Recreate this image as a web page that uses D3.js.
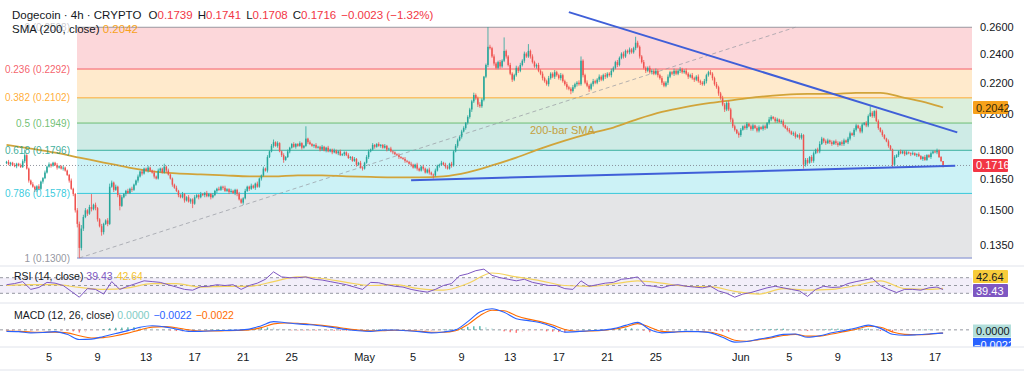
<!DOCTYPE html>
<html><head><meta charset="utf-8">
<script src="https://cdn.jsdelivr.net/npm/d3@7"></script>
<style>
body{margin:0;background:#fff}
svg{display:block;font-family:"Liberation Sans",Arial,sans-serif}
</style>
</head><body>
<svg id="c" width="1024" height="375"></svg>
<script>
// ---------- DATA (price in units of 0.0001) ----------
const startTime = "2025-04-01T12:00:00Z"; // first 4h candle
const firstOpen = 1728;
const closes = [
1735,1722,1730,1718,1712,1725,1716,1708,1738,1770,1700,1640,1622,1610,1595,1612,1600,1635,1652,1680,1710,1722,1715,1730,
1718,1705,1712,1700,1705,1690,1668,1640,1600,1575,1500,1440,1340,1420,1470,1500,1485,1515,1505,1525,1510,1460,1430,1405,
1440,1455,1440,1610,1630,1595,1610,1570,1520,1560,1575,1590,1580,1600,1595,1620,1640,1660,1685,1675,1700,1690,1705,1690,
1680,1660,1650,1690,1700,1680,1710,1690,1670,1650,1620,1605,1590,1570,1560,1575,1545,1560,1540,1550,1530,1560,1570,1560,
1575,1570,1580,1565,1575,1560,1570,1590,1600,1595,1610,1605,1590,1598,1585,1590,1580,1595,1575,1550,1535,1555,1590,1610,
1600,1615,1605,1625,1610,1650,1665,1700,1690,1760,1790,1820,1840,1820,1835,1790,1770,1745,1760,1790,1810,1830,1815,1830,
1820,1835,1810,1820,1860,1840,1830,1820,1825,1810,1815,1800,1815,1795,1810,1790,1800,1785,1795,1780,1790,1770,1775,1785,
1770,1755,1760,1740,1750,1720,1730,1705,1700,1730,1760,1790,1800,1825,1815,1830,1820,1825,1810,1820,1800,1805,1790,1785,
1775,1770,1760,1755,1750,1740,1735,1725,1720,1705,1720,1700,1690,1710,1700,1680,1695,1680,1670,1665,1690,1715,1720,1730,
1720,1710,1700,1725,1715,1790,1820,1850,1870,1900,1920,1950,1985,2030,2080,2120,2100,2060,2050,2090,2240,2320,2450,2440,
2380,2330,2300,2340,2310,2350,2420,2380,2320,2260,2220,2250,2300,2280,2320,2350,2400,2380,2420,2380,2340,2310,2320,2280,
2260,2230,2210,2190,2230,2260,2240,2270,2250,2230,2250,2210,2190,2170,2160,2145,2170,2190,2200,2190,2350,2250,2200,2180,
2160,2190,2210,2200,2220,2240,2220,2250,2240,2260,2250,2280,2300,2340,2320,2370,2400,2380,2420,2410,2430,2410,2440,2480,
2450,2380,2340,2300,2280,2300,2270,2280,2260,2280,2250,2230,2200,2180,2200,2240,2270,2260,2280,2260,2280,2290,2270,2280,
2260,2240,2250,2230,2220,2240,2210,2200,2190,2210,2250,2270,2260,2230,2190,2170,2130,2100,2060,2030,2070,2030,1970,1930,
1910,1890,1880,1910,1930,1920,1945,1930,1915,1935,1920,1905,1925,1915,1930,1920,1950,1970,1985,1975,1960,1970,1955,1960,
1935,1920,1910,1900,1885,1890,1870,1880,1865,1880,1720,1745,1730,1760,1740,1780,1800,1790,1830,1860,1845,1835,1850,1840,
1830,1845,1835,1825,1840,1830,1850,1840,1860,1890,1880,1910,1935,1920,1900,1940,1950,1935,1990,2010,1990,2020,1960,1920,
1900,1880,1860,1845,1820,1800,1720,1760,1770,1790,1780,1790,1775,1785,1780,1775,1780,1770,1775,1765,1750,1760,1745,1770,
1760,1780,1790,1785,1795,1760,1739,1716];
// wick lengths in units of 0.0005
const wickUp = [
1,2,1,1,2,1,1,2,2,6,1,1,1,2,1,1,2,1,1,2,1,2,1,1,
1,2,1,1,2,1,1,1,2,1,1,2,2,3,2,2,1,2,12,1,2,1,1,2,
1,1,2,3,2,1,2,1,1,2,1,1,2,1,2,1,1,2,1,2,1,1,2,1,
1,2,1,2,1,1,3,1,2,1,1,1,2,1,1,2,1,1,2,1,1,2,1,1,
2,1,1,2,1,1,2,1,1,2,1,1,2,1,1,2,1,1,1,2,1,1,2,1,
1,2,1,1,2,1,1,2,1,2,1,2,3,1,2,1,1,2,1,2,1,1,2,1,
1,2,1,1,14,1,2,1,1,2,1,1,2,1,1,2,1,1,2,1,1,2,1,1,
1,2,1,1,2,1,1,2,1,1,2,2,1,2,1,1,2,1,1,2,1,1,2,1,
1,1,2,1,1,2,1,1,2,1,1,2,1,1,2,1,1,2,1,1,2,1,1,2,
1,2,1,1,2,1,2,2,1,2,2,1,2,2,2,3,2,2,3,2,1,2,30,3,
2,3,2,2,3,2,20,2,2,3,2,2,3,2,3,2,3,2,10,2,3,2,2,3,
2,3,2,2,3,2,2,3,2,2,3,2,2,3,2,2,3,2,2,3,6,2,2,3,
2,2,3,2,2,3,2,2,3,2,2,3,2,2,3,2,2,3,2,2,3,2,2,9,
3,2,2,3,2,2,3,2,2,3,2,2,3,2,2,3,2,2,3,2,2,3,2,2,
3,2,2,3,2,2,3,2,2,3,2,2,3,2,2,3,2,2,3,2,2,3,2,2,
2,1,2,2,1,2,2,1,2,2,1,2,2,1,2,2,1,3,2,1,2,2,1,2,
2,1,2,2,1,2,2,1,2,2,1,2,2,1,2,2,1,2,3,2,1,2,2,1,
2,1,2,2,1,2,2,1,2,2,1,2,2,1,2,2,1,2,2,8,2,1,2,2,
1,2,1,1,2,1,1,2,1,1,2,1,1,2,1,1,2,1,1,2,1,1,2,1,
1,2,1,1,2,1,1,0];
const wickDn = [
1,1,2,1,1,2,1,1,1,2,1,2,1,1,2,2,1,1,2,1,1,1,2,1,
1,2,1,1,2,1,1,2,1,2,2,3,8,2,2,1,2,1,2,1,2,2,1,3,
2,1,2,1,1,2,1,2,4,1,1,2,1,1,2,1,1,2,1,2,1,1,2,1,
1,2,1,1,2,1,1,2,1,1,2,1,1,2,1,1,2,1,1,2,4,1,1,2,
1,1,2,1,1,2,1,1,2,1,1,2,1,1,2,1,1,2,2,1,1,2,1,1,
2,1,1,2,1,1,2,1,1,2,1,1,2,1,2,1,2,3,1,1,2,1,1,2,
1,1,2,1,1,2,1,1,2,1,1,2,1,1,2,1,1,2,1,1,2,1,1,2,
1,1,2,1,1,2,1,1,2,1,1,2,1,1,2,1,1,2,1,1,2,1,1,2,
1,1,2,1,1,2,1,1,2,1,1,2,1,1,2,1,1,2,1,3,1,1,2,1,
1,2,1,1,2,1,1,2,1,2,1,2,2,2,3,2,2,3,2,2,2,2,3,2,
2,3,2,2,3,2,2,3,2,2,3,2,2,3,2,2,3,2,2,3,2,2,3,2,
2,3,2,2,3,2,2,3,2,2,3,2,2,3,2,4,2,2,3,2,2,3,2,2,
4,2,3,2,2,3,2,2,3,2,2,3,2,2,3,2,2,3,2,2,3,2,2,3,
2,3,2,2,3,2,2,3,2,2,3,2,3,2,2,3,2,2,3,2,2,3,2,2,
2,3,2,2,3,2,2,3,2,2,3,2,2,3,2,2,3,2,2,3,2,2,3,2,
2,1,3,2,1,2,2,1,2,2,1,2,2,1,2,2,1,2,2,1,2,2,1,2,
2,1,2,2,1,2,2,1,2,2,4,2,2,1,2,2,1,2,2,1,2,2,1,2,
2,1,2,2,1,2,2,1,2,2,1,2,2,1,2,2,1,2,2,1,2,2,1,2,
1,2,1,1,2,1,3,1,1,2,1,1,2,1,1,2,1,1,2,1,1,2,1,1,
1,2,1,1,2,1,1,2];
// SMA(200) sampled every 12 candles (last = final candle)
const sma200 = [0.1826,0.1805,0.1783,0.1757,0.1731,0.1706,0.1686,0.1676,0.1671,0.1666,0.1661,0.1661,0.1666,0.1666,0.1661,0.1658,0.1656,0.1656,0.1661,0.1681,0.1716,0.1757,0.1805,0.1849,0.1888,0.1923,0.1972,0.2015,0.2046,0.2070,0.2089,0.2108,0.2121,0.2127,0.2127,0.2134,0.2134,0.2102,0.2068,0.2042];
// RSI(14) sampled every 4 candles, RSI-MA every 12 candles
const rsi = [52,55,60,40,45,58,56,50,35,20,42,40,28,60,40,48,55,62,60,58,52,46,40,38,47,48,52,50,52,40,50,56,66,85,72,70,70,72,66,64,60,56,52,46,40,58,57,52,48,46,40,36,33,40,50,55,75,80,88,92,76,70,66,62,66,58,54,50,50,42,40,62,48,52,56,58,66,68,72,50,48,44,50,52,48,46,44,48,36,30,20,28,32,38,44,48,44,40,36,22,40,48,45,46,55,60,64,68,50,40,32,40,40,38,44,46,39.43];
const rsiMA = [50,52,52,45,40,44,55,55,46,48,48,60,72,68,58,50,52,42,38,55,82,72,62,50,48,54,62,56,48,47,35,28,42,38,40,50,62,42,40,42.64];
// MACD (units 0.0001) sampled every 6 candles; histogram every 3 candles
const macdLine = [-10,-12,-20,-18,-12,-30,-65,-62,-44,-25,-5,18,28,20,5,-10,-10,-6,-4,-2,5,28,55,48,40,34,26,14,2,-6,-10,-2,-1,-6,-12,-20,-14,0,55,120,142,118,75,62,48,20,-15,-12,-6,-2,8,30,50,2,-20,-15,-10,-12,-20,-50,-82,-78,-62,-48,-30,-28,-50,-40,-20,-5,12,32,10,-30,-36,-33,-28,-22,-22];
const signalLine = [-8,-10,-14,-16,-15,-20,-40,-55,-52,-40,-22,0,18,22,14,0,-8,-8,-6,-4,0,15,40,46,44,38,30,20,8,-2,-7,-6,-3,-4,-9,-16,-16,-6,35,95,132,128,95,72,55,32,2,-10,-8,-4,4,20,42,18,-10,-14,-12,-11,-16,-38,-70,-76,-66,-54,-38,-30,-42,-42,-28,-12,4,24,18,-14,-30,-33,-30,-22,-22];
const macdHist = [-1,-2,-1,1,-2,-3,-1,1,2,-1,-5,-10,-18,-16,-8,-2,5,10,14,15,17,18,17,14,10,5,0,-4,-8,-10,-9,-6,-2,1,2,2,1,2,1,2,5,9,13,16,15,8,2,-2,-4,-4,-4,-5,-4,-5,-6,-6,-6,-5,-4,-4,-3,2,4,3,2,0,-2,-3,-3,-4,-4,-1,2,4,6,12,20,24,25,18,10,0,-10,-16,-20,-14,-10,-8,-7,-10,-12,-15,-17,-10,-2,2,2,2,2,3,4,7,10,10,8,-5,-16,-14,-10,-5,-1,1,2,1,-1,-2,-4,-8,-12,-13,-12,-6,-2,2,4,5,6,7,8,5,2,-3,-8,-3,2,5,8,8,7,8,8,8,8,0,-8,-12,-16,-10,-6,-3,0,1,2,1,0];
// Fibonacci retracement
const fibLevels = [0, 0.236, 0.382, 0.5, 0.618, 0.786, 1];
const fibPrices = [0.2598, 0.2292, 0.2102, 0.1949, 0.1796, 0.1578, 0.1300];
const fibColors = ["#787b86","#f23645","#ff9800","#4caf50","#089981","#00bcd4","#787b86"];
const fibAnchors = [["2025-04-07T12:00:00Z",0.1300],["2025-06-05T12:00:00Z",0.2598]];
const supportLine = [["2025-05-04T20:00:00Z",0.1642],["2025-06-18T16:00:00Z",0.1714]];
const resistLine = [["2025-05-17T20:00:00Z",0.2719],["2025-06-18T20:00:00Z",0.1895]];
// axes
const priceTicks = [0.26,0.24,0.22,0.20,0.18,0.165,0.15,0.135];
const tickDates = ["2025-04-05","2025-04-09","2025-04-13","2025-04-17","2025-04-21","2025-04-25","2025-05-01","2025-05-05","2025-05-09","2025-05-13","2025-05-17","2025-05-21","2025-05-25","2025-06-01","2025-06-05","2025-06-09","2025-06-13","2025-06-17"];
const tickLabels = ["5","9","13","17","21","25","May","5","9","13","17","21","25","Jun","5","9","13","17"];
// header values
const headerOHLC = [0.1739, 0.1741, 0.1708, 0.1716];
const headerChange = [-0.0023, -1.32];
const lastSMA = 0.2042;
const lastRSI = [39.43, 42.64];
const lastMACD = [0.0000, -0.0022, -0.0022];

// ---------- LAYOUT ----------
const svg = d3.select("#c");
const W = 1024, PR = 972, FIBX = 77;
const P = {top:0, bot:266}, R = {top:266, bot:303}, M = {top:303, bot:347};
const x = d3.scaleUtc().domain([new Date("2025-04-05T00:00:00Z"), new Date("2025-06-17T00:00:00Z")]).range([49, 935]);
const y = d3.scaleLog().domain([0.13, 0.26]).range([258, 27]);
const yR = d3.scaleLinear().domain([30,70]).range([293.3, 277.7]);
const yM = d3.scaleLinear().domain([-0.0115, 0.0160]).range([347, 306]);
const t0 = Date.parse(startTime);
const tAt = i => new Date(t0 + i*4*3600e3);
const nBars = closes.length;
const upC = "#26a69a", dnC = "#ef5350";
const fmt4 = d3.format(".4f");
const minus = s => s.replace("-", "\u2212");

const defs = svg.append("defs");
defs.append("clipPath").attr("id","cp").append("rect").attr("x",0).attr("y",P.top).attr("width",PR).attr("height",P.bot-P.top);
defs.append("clipPath").attr("id","cr").append("rect").attr("x",0).attr("y",R.top).attr("width",PR).attr("height",R.bot-R.top);
defs.append("clipPath").attr("id","cm").append("rect").attr("x",0).attr("y",M.top).attr("width",W).attr("height",M.bot-M.top);

// ---------- PRICE PANE ----------
const gp = svg.append("g").attr("clip-path","url(#cp)");
for (let j=0;j<fibPrices.length-1;j++){
  gp.append("rect").attr("x",FIBX).attr("width",PR-FIBX)
    .attr("y",y(fibPrices[j])).attr("height",y(fibPrices[j+1])-y(fibPrices[j]))
    .attr("fill",fibColors[j+1]).attr("fill-opacity",0.2);
}
fibPrices.forEach((p,j)=>{
  gp.append("line").attr("x1",FIBX).attr("x2",PR).attr("y1",y(p)).attr("y2",y(p))
    .attr("stroke",j===6?"#9fa8da":fibColors[j]).attr("stroke-opacity",0.75).attr("stroke-width",j===6?2:1);
  svg.append("text").attr("x",70).attr("y",y(p)+3.5).attr("text-anchor","end")
    .attr("font-size",10).attr("fill",fibColors[j]).attr("fill-opacity",j===0?0.4:0.8)
    .text(`${fibLevels[j]} (${fmt4(p)})`);
});
// fib trend dashed
gp.append("line")
  .attr("x1",x(new Date(fibAnchors[0][0]))).attr("y1",y(fibAnchors[0][1]))
  .attr("x2",x(new Date(fibAnchors[1][0]))).attr("y2",y(fibAnchors[1][1]))
  .attr("stroke","#9598a1").attr("stroke-opacity",0.7).attr("stroke-dasharray","4,3");
// SMA 200
const smaPts = sma200.map((v,k)=>[x(tAt(Math.min(12*k,nBars-1))), y(v)]);
gp.append("path").attr("d",d3.line().curve(d3.curveMonotoneX)(smaPts))
  .attr("fill","none").attr("stroke","#d1a43a").attr("stroke-width",1.8);
gp.append("text").attr("x",530).attr("y",134).attr("font-size",11).attr("fill","#c4a040").text("200-bar SMA");
// current price dotted
gp.append("line").attr("x1",0).attr("x2",PR).attr("y1",y(headerOHLC[3])).attr("y2",y(headerOHLC[3]))
  .attr("stroke","#787b86").attr("stroke-dasharray","1,2").attr("stroke-width",0.8);
// candles
const candles = closes.map((c,i)=>{
  const o = i===0?firstOpen:closes[i-1];
  return {t:tAt(i), o:o/1e4, c:c/1e4, h:(Math.max(o,c)+wickUp[i]*5)/1e4, l:(Math.min(o,c)-wickDn[i]*5)/1e4};
});
const gc = gp.append("g");
candles.forEach(d=>{
  const cx = x(d.t), col = d.c>=d.o?upC:dnC;
  gc.append("line").attr("x1",cx).attr("x2",cx).attr("y1",y(d.h)).attr("y2",y(d.l)).attr("stroke",col).attr("stroke-width",0.8);
  const yt = y(Math.max(d.o,d.c)), yb = y(Math.min(d.o,d.c));
  gc.append("rect").attr("x",cx-0.75).attr("width",1.5).attr("y",yt).attr("height",Math.max(0.8,yb-yt)).attr("fill",col);
});
// trend lines
[supportLine,resistLine].forEach(L=>{
  gp.append("line").attr("x1",x(new Date(L[0][0]))).attr("y1",y(L[0][1]))
    .attr("x2",x(new Date(L[1][0]))).attr("y2",y(L[1][1]))
    .attr("stroke","#3f5fd8").attr("stroke-width",2);
});

// price axis
priceTicks.forEach(p=>{
  svg.append("text").attr("x",980).attr("y",y(p)+4).attr("font-size",11).attr("fill","#131722").text(fmt4(p));
});
function tag(yc, txt, bg, fg){
  svg.append("rect").attr("x",973).attr("y",yc-6.5).attr("width",35).attr("height",13).attr("fill",bg).attr("rx",1);
  svg.append("text").attr("x",976).attr("y",yc+4).attr("font-size",11).attr("fill",fg).text(txt);
}
tag(y(lastSMA), fmt4(lastSMA), "#f7a21b", "#3a2a05");
tag(y(headerOHLC[3]), fmt4(headerOHLC[3]), "#f23645", "#ffffff");

// header
const h1 = svg.append("text").attr("x",12).attr("y",19).attr("font-size",11.5).attr("fill","#131722");
h1.append("tspan").text("Dogecoin \u00b7 4h \u00b7 CRYPTO ");
["O","H","L","C"].forEach((k,j)=>{
  h1.append("tspan").attr("dx",j===0?4:5).text(k);
  h1.append("tspan").attr("fill","#f23645").text(fmt4(headerOHLC[j]));
});
h1.append("tspan").attr("dx",5).attr("fill","#f23645").text(minus(fmt4(headerChange[0]))+" ("+minus(d3.format(".2f")(headerChange[1]))+"%)");
const h2 = svg.append("text").attr("x",12).attr("y",33).attr("font-size",11.5).attr("fill","#131722");
h2.append("tspan").text("SMA (200, close) ");
h2.append("tspan").attr("fill","#f7a21b").text(fmt4(lastSMA));

// ---------- RSI PANE ----------
svg.append("line").attr("x1",0).attr("x2",W).attr("y1",R.top).attr("y2",R.top).attr("stroke","#e0e3eb");
const gr = svg.append("g").attr("clip-path","url(#cr)");
gr.append("rect").attr("x",0).attr("width",PR).attr("y",yR(70)).attr("height",yR(30)-yR(70)).attr("fill","#7e57c2").attr("fill-opacity",0.1);
[70,50,30].forEach(v=>gr.append("line").attr("x1",0).attr("x2",PR).attr("y1",yR(v)).attr("y2",yR(v))
  .attr("stroke","#9598a1").attr("stroke-dasharray","3,3").attr("stroke-width",1));
gr.append("path").attr("d",d3.line().curve(d3.curveMonotoneX)(rsiMA.map((v,k)=>[x(tAt(Math.min(12*k,nBars-1))),yR(v)])))
  .attr("fill","none").attr("stroke","#f4d35e").attr("stroke-width",1.2);
gr.append("path").attr("d",d3.line()(rsi.map((v,k)=>[x(tAt(Math.min(4*k,nBars-1))),yR(v)])))
  .attr("fill","none").attr("stroke","#7e57c2").attr("stroke-width",1);
const r1 = svg.append("text").attr("x",14).attr("y",280).attr("font-size",10.5).attr("fill","#131722");
r1.append("tspan").text("RSI (14, close) ");
r1.append("tspan").attr("fill","#7e57c2").text(lastRSI[0].toFixed(2));
r1.append("tspan").attr("dx",4).attr("fill","#f4c430").text(lastRSI[1].toFixed(2));
tag(276.5, lastRSI[1].toFixed(2), "#f7cc3a", "#131722");
tag(290.5, lastRSI[0].toFixed(2), "#7e57c2", "#ffffff");

// ---------- MACD PANE ----------
svg.append("line").attr("x1",0).attr("x2",W).attr("y1",M.top).attr("y2",M.top).attr("stroke","#e0e3eb");
const gm = svg.append("g").attr("clip-path","url(#cm)");
gm.append("line").attr("x1",0).attr("x2",PR).attr("y1",yM(0)).attr("y2",yM(0)).attr("stroke","#9598a1").attr("stroke-dasharray","3,3");
macdHist.forEach((h,k)=>{
  const v = h/1e4, prev = k>0?macdHist[k-1]/1e4:v;
  const col = v>=0 ? (v>=prev?"#26a69a":"#b2dfdb") : (v<=prev?"#ff5252":"#ffcdd2");
  const cx = x(tAt(3*k));
  gm.append("rect").attr("x",cx-0.7).attr("width",1.4)
    .attr("y",Math.min(yM(0),yM(v))).attr("height",Math.max(0.5,Math.abs(yM(v)-yM(0)))).attr("fill",col).attr("fill-opacity",0.8);
});
gm.append("path").attr("d",d3.line().curve(d3.curveMonotoneX)(signalLine.map((v,k)=>[x(tAt(Math.min(6*k,nBars-1))),yM(v/1e4)])))
  .attr("fill","none").attr("stroke","#ff6d00").attr("stroke-width",1.1);
gm.append("path").attr("d",d3.line().curve(d3.curveMonotoneX)(macdLine.map((v,k)=>[x(tAt(Math.min(6*k,nBars-1))),yM(v/1e4)])))
  .attr("fill","none").attr("stroke","#2962ff").attr("stroke-width",1.1);
const m1 = svg.append("text").attr("x",14).attr("y",319).attr("font-size",10.5).attr("fill","#131722");
m1.append("tspan").text("MACD (12, 26, close) ");
m1.append("tspan").attr("fill","#80cbc4").text(fmt4(lastMACD[0]));
m1.append("tspan").attr("dx",4).attr("fill","#2962ff").text(minus(fmt4(lastMACD[1])));
m1.append("tspan").attr("dx",4).attr("fill","#ff6d00").text(minus(fmt4(lastMACD[2])));
const gmt = svg.append("g").attr("clip-path","url(#cm)");
gmt.append("rect").attr("x",973).attr("y",324.5).attr("width",38).attr("height",13).attr("fill","#b2dfdb");
gmt.append("text").attr("x",976).attr("y",335).attr("font-size",11).attr("fill","#131722").text(fmt4(lastMACD[0]));
gmt.append("rect").attr("x",973).attr("y",338).attr("width",38).attr("height",13).attr("fill","#2962ff");
gmt.append("text").attr("x",974).attr("y",348.5).attr("font-size",11).attr("fill","#fff").text(minus(fmt4(lastMACD[1])));

// ---------- TIME AXIS ----------
svg.append("line").attr("x1",0).attr("x2",W).attr("y1",M.bot).attr("y2",M.bot).attr("stroke","#e0e3eb");
tickDates.forEach((d,k)=>{
  svg.append("text").attr("x",x(new Date(d+"T00:00:00Z"))).attr("y",361).attr("text-anchor","middle")
    .attr("font-size",11).attr("fill","#131722").text(tickLabels[k]);
});
svg.append("line").attr("x1",0).attr("x2",W).attr("y1",370).attr("y2",370).attr("stroke","#e0e3eb");
</script>
</body></html>
